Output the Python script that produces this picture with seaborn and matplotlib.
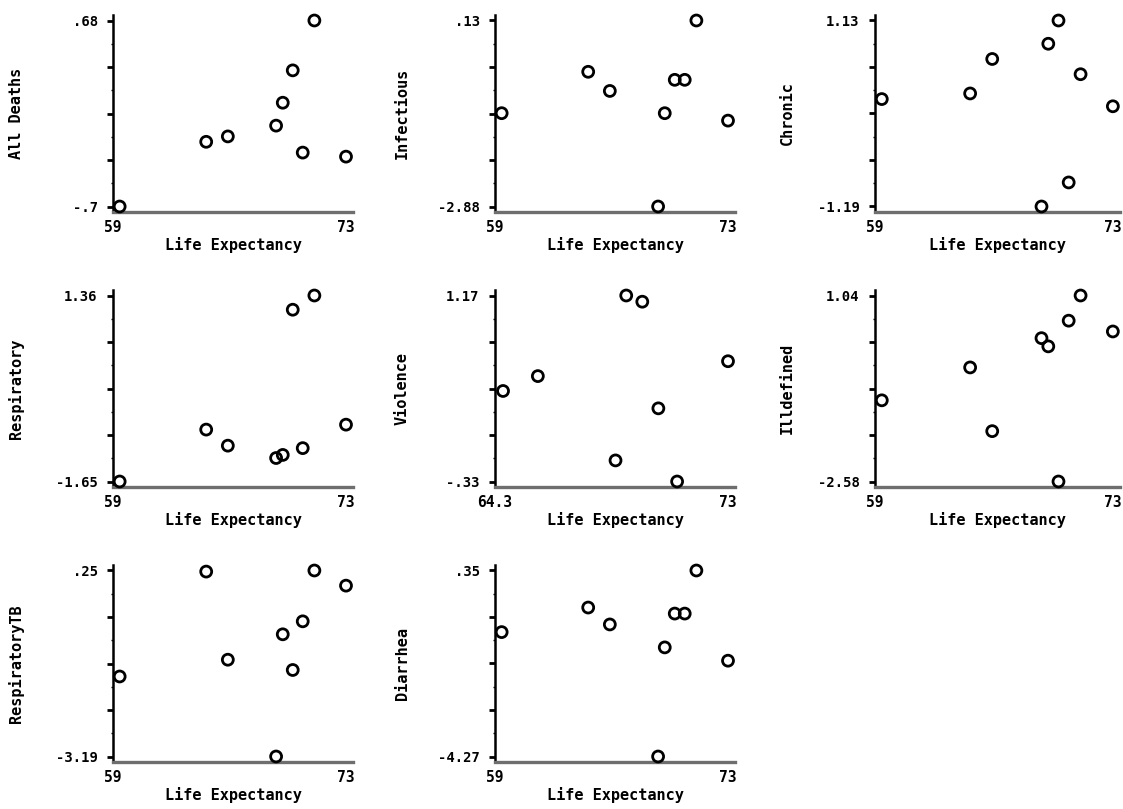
import numpy as np
import pandas as pd
import matplotlib
matplotlib.use("Agg")
import matplotlib.pyplot as plt
import seaborn as sns
from matplotlib.ticker import FixedLocator, AutoMinorLocator

sns.set_theme(style="white")
plt.rcParams['font.family'] = ['DejaVu Sans Mono', 'DejaVu Sans']
plt.rcParams['text.color'] = 'black'
plt.rcParams['axes.labelcolor'] = 'black'
plt.rcParams['xtick.color'] = 'black'
plt.rcParams['ytick.color'] = 'black'

# Life expectancy of the nine regions (x values)
life = [59.4, 64.6, 65.9, 68.8, 69.2, 69.8, 70.4, 71.1, 73.0]
life_violence = [64.6, 65.9, 68.8, 69.2, 69.8, 70.4, 71.1, 73.0]

all_deaths = [-0.70, -0.22, -0.18, -0.10, 0.07, 0.31, -0.30, 0.68, -0.33]
infectious = [-1.37, -0.70, -1.01, -2.88, -1.37, -0.83, -0.83, 0.13, -1.49]
chronic = [0.15, 0.22, 0.65, -1.19, 0.84, 1.13, -0.89, 0.46, 0.06]
respiratory = [-1.65, -0.81, -1.07, -1.27, -1.22, 1.13, -1.11, 1.36, -0.73]
violence = [0.40, 0.52, -0.16, 1.17, 1.12, 0.26, -0.33, 0.64]
illdefined = [-1.00, -0.36, -1.60, 0.21, 0.05, -2.58, 0.55, 1.04, 0.34]
respiratory_tb = [-1.71, 0.23, -1.40, -3.19, -0.93, -1.59, -0.69, 0.25, -0.03]
diarrhea = [-1.18, -0.57, -0.99, -4.27, -1.56, -0.72, -0.72, 0.35, -1.89]

x_label = "Life Expectancy"
x_min_labels = {"Violence": 64.3}
x_max = 73

panels = [
    ("All Deaths", life, all_deaths),
    ("Infectious", life, infectious),
    ("Chronic", life, chronic),
    ("Respiratory", life, respiratory),
    ("Violence", life_violence, violence),
    ("Illdefined", life, illdefined),
    ("RespiratoryTB", life, respiratory_tb),
    ("Diarrhea", life, diarrhea),
]

W, H = 1123, 809
fig = plt.figure(figsize=(W / 100, H / 100), dpi=100)

col_left = [113, 495, 875]
col_width = [240, 240, 245]
row_bottom = [212, 487, 762]
ax_h = 197


def fmt(v):
    s = f"{v:.2f}".rstrip('0').rstrip('.')
    s = s.replace("-0.", "-.")
    if s.startswith("0."):
        s = s[1:]
    return s


for i, (name, xs, ys) in enumerate(panels):
    r, c = divmod(i, 3)
    left = col_left[c]
    w = col_width[c]
    bottom = row_bottom[r]
    ax = fig.add_axes([left / W, 1 - bottom / H, w / W, ax_h / H])
    df = pd.DataFrame({"x": xs, "y": ys})
    sns.scatterplot(data=df, x="x", y="y", ax=ax, marker="o", s=62,
                    facecolor="none", edgecolor="black", linewidth=2.0, zorder=3,
                    clip_on=False)
    ymin, ymax = min(ys), max(ys)
    rng = ymax - ymin
    pad = rng * 5.5 / 186
    ax.set_ylim(ymin - pad, ymax + pad)
    xmin = x_min_labels.get(name, 59)
    ax.set_xlim(xmin, x_max + (x_max - xmin) * 7 / 233)

    yt = np.linspace(ymin, ymax, 5)
    ax.yaxis.set_major_locator(FixedLocator(yt))
    ax.set_yticklabels([fmt(ymin), "", "", "", fmt(ymax)])
    ax.yaxis.set_minor_locator(AutoMinorLocator(2))
    ax.set_xticks([xmin, x_max])
    ax.set_xticklabels([f"{xmin:g}", f"{x_max:g}"])

    ax.tick_params(axis="y", which="major", direction="out", length=4, width=2.0,
                   color="black", pad=7, labelsize=10, left=True)
    ax.tick_params(axis="y", which="minor", direction="out", length=1.2, width=1,
                   color="black", left=True)
    ax.tick_params(axis="x", which="both", length=0, pad=6, labelsize=10.5)
    for lab in ax.get_xticklabels() + ax.get_yticklabels():
        lab.set_fontweight("bold")

    for s in ["top", "right"]:
        ax.spines[s].set_visible(False)
    ax.spines["left"].set_color("black")
    ax.spines["left"].set_linewidth(1.8)
    ax.spines["bottom"].set_color("#6e6e6e")
    ax.spines["bottom"].set_linewidth(2.4)
    ax.grid(False)

    ax.set_xlabel(x_label, fontsize=11, fontweight="bold")
    ax.set_ylabel(name, fontsize=11, fontweight="bold")
    ax.xaxis.set_label_coords(0.5, -33 / ax_h)
    ylab_x = [-97, -93, -88][c] / w
    ax.yaxis.set_label_coords(ylab_x, 0.5)
    ax.xaxis.label.set_va("center")
    ax.yaxis.label.set_va("center")

fig.savefig("out.png", dpi=100, facecolor="white")
